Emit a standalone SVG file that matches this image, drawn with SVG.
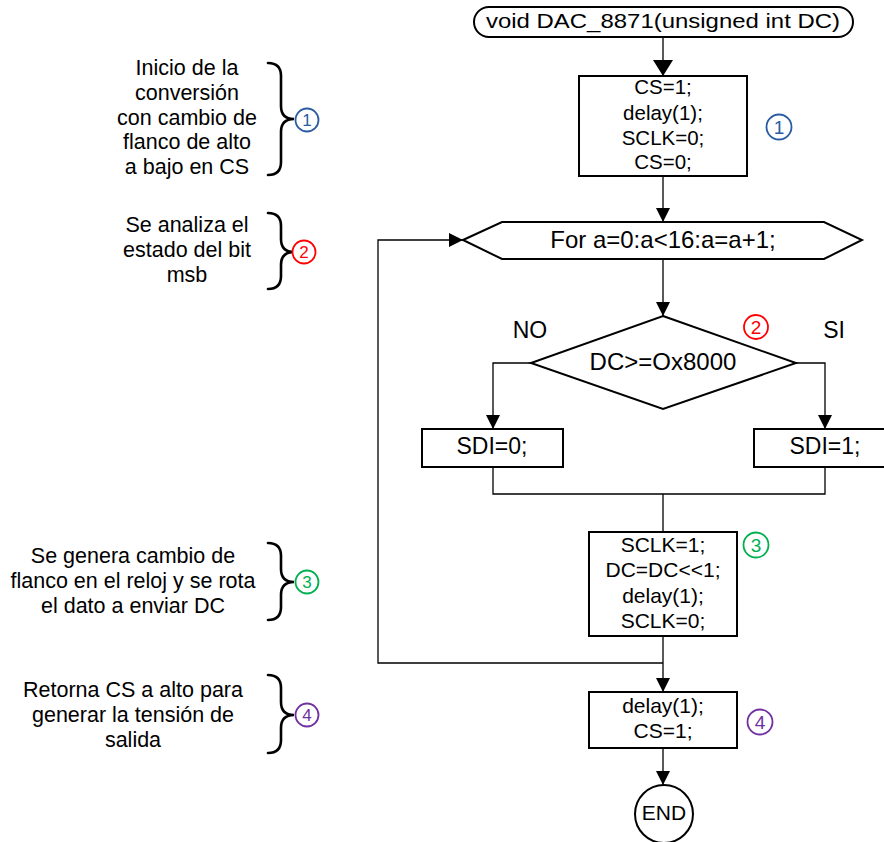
<svg xmlns="http://www.w3.org/2000/svg" width="884" height="842" viewBox="0 0 884 842">
<style>
text{font-family:"Liberation Sans",Arial,sans-serif;fill:#000}
.c{text-anchor:middle}
.shape{fill:#fff;stroke:#000;stroke-width:2}
.conn{fill:none;stroke:#000;stroke-width:1.3}
.brace{fill:none;stroke:#000;stroke-width:2.6;stroke-linecap:round}
.num{fill:#fff;stroke-width:1.8}
.numt{font-size:17px;text-anchor:middle}
.numr{font-size:19px;text-anchor:middle}
.note{font-size:21.5px;text-anchor:middle}
</style>
<defs>
<marker id="ar" markerUnits="userSpaceOnUse" markerWidth="14" markerHeight="14" refX="14" refY="7" orient="auto"><path d="M0,0 L14,7 L0,14 z" fill="#000"/></marker>
<marker id="arBig" markerUnits="userSpaceOnUse" markerWidth="16" markerHeight="20" refX="16" refY="10" orient="auto"><path d="M0,0 L16,10 L0,20 z" fill="#000"/></marker>
</defs>

<g id="connectors">
<path class="conn" d="M663,37 V76" marker-end="url(#arBig)"/>
<path class="conn" d="M663,176 V222" marker-end="url(#ar)"/>
<path class="conn" d="M663,259 V316" marker-end="url(#ar)"/>
<path class="conn" d="M531,363 H493 V429" marker-end="url(#ar)"/>
<path class="conn" d="M796,363 H825 V429" marker-end="url(#ar)"/>
<path class="conn" d="M493,467 V494 H825 V467"/>
<path class="conn" d="M663,494 V532"/>
<path class="conn" d="M663,636 V692" marker-end="url(#ar)"/>
<path class="conn" d="M663,663 H378 V240 H463" marker-end="url(#ar)"/>
<path class="conn" d="M663,748 V785" marker-end="url(#ar)"/>
</g>

<g id="start">
<rect class="shape" x="474" y="7" width="379" height="30" rx="15" ry="15"/>
<text class="c" x="663" y="28" font-size="21" textLength="354" lengthAdjust="spacingAndGlyphs">void DAC_8871(unsigned int DC)</text>
</g>

<g id="box1">
<rect class="shape" x="579" y="76" width="168" height="100"/>
<text class="c" x="663" y="94" font-size="20.5">CS=1;</text>
<text class="c" x="663" y="120" font-size="20.5">delay(1);</text>
<text class="c" x="663" y="145" font-size="20.5">SCLK=0;</text>
<text class="c" x="663" y="169" font-size="20.5">CS=0;</text>
</g>

<g id="loop">
<polygon class="shape" points="463,240 502,222 824,222 862,240 824,259 502,259"/>
<text class="c" x="663" y="248" font-size="24">For a=0:a&lt;16:a=a+1;</text>
</g>

<g id="decision">
<polygon class="shape" points="663,316 796,363 663,409 531,363"/>
<text class="c" x="663" y="370" font-size="24">DC&gt;=Ox8000</text>
<text class="c" x="530" y="338" font-size="23">NO</text>
<text class="c" x="834" y="338" font-size="23">SI</text>
</g>

<g id="sdi0">
<rect class="shape" x="422" y="429" width="141" height="38"/>
<text class="c" x="492" y="454" font-size="23">SDI=0;</text>
</g>

<g id="sdi1">
<rect class="shape" x="754" y="429" width="142" height="38"/>
<text class="c" x="825" y="454" font-size="23">SDI=1;</text>
</g>

<g id="box3">
<rect class="shape" x="589" y="532" width="148" height="104"/>
<text class="c" x="663" y="552" font-size="21">SCLK=1;</text>
<text class="c" x="663" y="577" font-size="21">DC=DC&lt;&lt;1;</text>
<text class="c" x="663" y="603" font-size="21">delay(1);</text>
<text class="c" x="663" y="628" font-size="21">SCLK=0;</text>
</g>

<g id="box4">
<rect class="shape" x="589" y="692" width="148" height="56"/>
<text class="c" x="663" y="713" font-size="21">delay(1);</text>
<text class="c" x="663" y="738" font-size="21">CS=1;</text>
</g>

<g id="end">
<circle class="shape" cx="664" cy="814" r="29"/>
<text class="c" x="664" y="820" font-size="21">END</text>
</g>

<g id="mark1">
<circle class="num" cx="779" cy="127" r="12.5" stroke="#2a5ba3"/>
<text class="numr" x="779" y="134" style="fill:#2a5ba3">1</text>
</g>
<g id="mark2">
<circle class="num" cx="756" cy="327" r="12" stroke="#ff0000"/>
<text class="numr" x="756" y="334" style="fill:#ff0000">2</text>
</g>
<g id="mark3">
<circle class="num" cx="756" cy="545" r="12.5" stroke="#00b050"/>
<text class="numr" x="756" y="552" style="fill:#00b050">3</text>
</g>
<g id="mark4">
<circle class="num" cx="760" cy="722" r="12.5" stroke="#7030a0"/>
<text class="numr" x="760" y="729" style="fill:#7030a0">4</text>
</g>

<g id="note1">
<text class="note" x="187" y="75">Inicio de la</text>
<text class="note" x="187" y="100">conversión</text>
<text class="note" x="187" y="125">con cambio de</text>
<text class="note" x="187" y="149">flanco de alto</text>
<text class="note" x="187" y="174">a bajo en CS</text>
<path class="brace" d="M268,63 Q281,63 281,76 V106 Q281,119 294,119 Q281,119 281,132 V162 Q281,175 268,175"/>
<circle class="num" cx="307" cy="120" r="11.5" stroke="#2a5ba3"/>
<text class="numt" x="307" y="126" style="fill:#2a5ba3">1</text>
</g>

<g id="note2">
<text class="note" x="187" y="232">Se analiza el</text>
<text class="note" x="187" y="257">estado del bit</text>
<text class="note" x="187" y="282">msb</text>
<path class="brace" d="M268,213 Q281,213 281,226 V239 Q281,252 294,252 Q281,252 281,265 V276 Q281,289 268,289"/>
<circle class="num" cx="304" cy="252" r="11.5" stroke="#ff0000"/>
<text class="numt" x="304" y="258" style="fill:#ff0000">2</text>
</g>

<g id="note3">
<text class="note" x="133" y="563">Se genera cambio de</text>
<text class="note" x="133" y="588">flanco en el reloj y se rota</text>
<text class="note" x="133" y="613">el dato a enviar DC</text>
<path class="brace" d="M268,543 Q281,543 281,556 V569 Q281,582 294,582 Q281,582 281,595 V607 Q281,620 268,620"/>
<circle class="num" cx="307" cy="582" r="11.5" stroke="#00b050"/>
<text class="numt" x="307" y="588" style="fill:#00b050">3</text>
</g>

<g id="note4">
<text class="note" x="133" y="697">Retorna CS a alto para</text>
<text class="note" x="133" y="722">generar la tensión de</text>
<text class="note" x="133" y="747">salida</text>
<path class="brace" d="M268,675 Q281,675 281,688 V702 Q281,715 294,715 Q281,715 281,728 V740 Q281,753 268,753"/>
<circle class="num" cx="307" cy="715" r="11.5" stroke="#7030a0"/>
<text class="numt" x="307" y="721" style="fill:#7030a0">4</text>
</g>
</svg>
